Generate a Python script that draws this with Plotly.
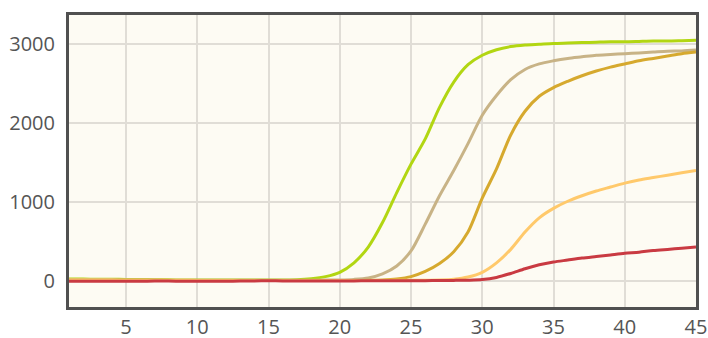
import plotly.graph_objects as go

cycles = list(range(1, 46))

green = [25, 24, 22, 21, 20, 18, 16, 14, 12, 12, 11, 11, 11, 12, 12, 13, 15,
         28, 55, 110, 230, 430, 740, 1120, 1480, 1800, 2200, 2520, 2740, 2860,
         2930, 2970, 2990, 3000, 3010, 3015, 3020, 3025, 3030, 3030, 3035, 3040,
         3040, 3045, 3050]
tan = [15, 15, 14, 14, 13, 12, 11, 10, 10, 10, 10, 10, 10, 10, 10, 10, 10,
       10, 11, 13, 20, 38, 90, 190, 380, 720, 1080, 1400, 1740, 2100,
       2350, 2550, 2680, 2750, 2790, 2820, 2840, 2860, 2870, 2880, 2890, 2900,
       2910, 2915, 2925]
gold = [10, 10, 10, 9, 9, 8, 8, 7, 7, 7, 6, 6, 6, 6, 6, 6, 6,
        6, 6, 6, 7, 8, 12, 25, 55, 120, 220, 370, 620, 1050,
        1420, 1850, 2150, 2340, 2450, 2530, 2600, 2660, 2710, 2750, 2790, 2820,
        2850, 2880, 2900]
orange = [12, 12, 11, 11, 10, 10, 9, 8, 8, 7, 7, 7, 7, 7, 7, 7, 7,
          7, 7, 7, 7, 7, 7, 8, 8, 9, 12, 22, 50, 110,
          230, 400, 620, 800, 920, 1010, 1080, 1140, 1190, 1240, 1280, 1310,
          1340, 1370, 1400]
red = [-5, -5, -4, -4, -3, -3, -2, -2, -3, -4, -4, -3, -2, 0, 2, 1, 0,
       -1, -1, 0, 1, 2, 2, 3, 3, 4, 5, 7, 10, 18,
       45, 95, 155, 205, 240, 265, 290, 310, 330, 350, 365, 385,
       400, 415, 430]

series = [
    ("green", green, "#b2d612"),
    ("tan", tan, "#c8b386"),
    ("gold", gold, "#d6a92e"),
    ("orange", orange, "#ffc96b"),
    ("red", red, "#c93a42"),
]

x_ticks = [5, 10, 15, 20, 25, 30, 35, 40, 45]
y_ticks = [0, 1000, 2000, 3000]

fig = go.Figure()
for name, vals, color in series:
    fig.add_trace(go.Scatter(
        x=cycles, y=vals, mode="lines", name=name,
        line=dict(color=color, width=3, shape="spline", smoothing=0.8),
        hoverinfo="skip",
    ))

fig.update_layout(
    width=708, height=338,
    margin=dict(l=69, r=12, t=15, b=31),
    paper_bgcolor="white",
    plot_bgcolor="#fdfbf3",
    showlegend=False,
    font=dict(family="Open Sans", size=20, color="#555555"),
)
fig.update_xaxes(
    range=[1, 45], tickvals=x_ticks, ticktext=[str(v) for v in x_ticks],
    showgrid=True, gridcolor="#e0ddd6", gridwidth=1.5,
    showline=True, linecolor="#505050", linewidth=3, mirror=True,
    zeroline=False, ticks="", ticklabelstandoff=0, automargin=False,
    ticklabeloverflow="allow",
)
fig.update_yaxes(
    range=[-330, 3370], tickvals=y_ticks, ticktext=[str(v) for v in y_ticks],
    showgrid=True, gridcolor="#e0ddd6", gridwidth=1.5,
    showline=True, linecolor="#505050", linewidth=3, mirror=True,
    zeroline=False, ticks="", ticklabelstandoff=7, automargin=False,
)

# remove the page's default body margin so the figure fills the window
fig.write_html(
    "out.html",
    config={"displayModeBar": False},
    post_script="document.body.style.margin='0';document.body.style.overflow='hidden';",
)
